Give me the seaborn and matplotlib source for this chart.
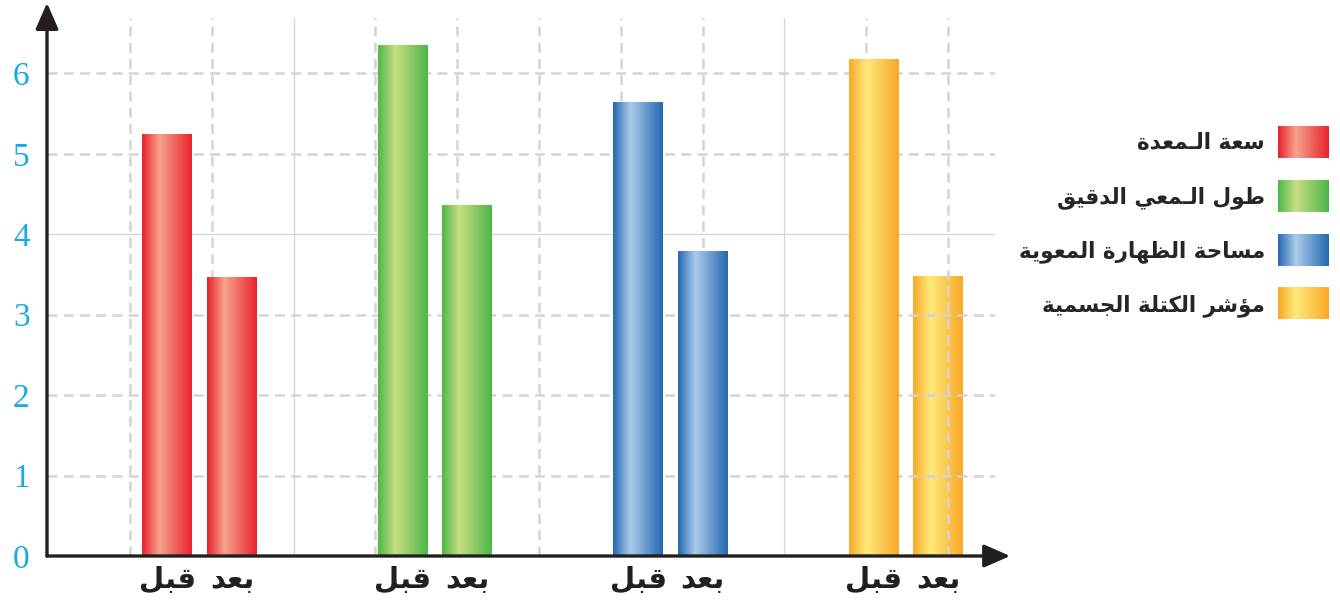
import numpy as np
import pandas as pd
import seaborn as sns
import matplotlib
matplotlib.use('Agg')
import matplotlib.pyplot as plt
from matplotlib.colors import LinearSegmentedColormap
from matplotlib.patches import Patch
from matplotlib.legend_handler import HandlerBase
from matplotlib.image import BboxImage
from matplotlib.transforms import Bbox, TransformedBbox

# البيانات
groups = ['سعة الـمعدة', 'طول الـمعي الدقيق', 'مساحة الظهارة المعوية', 'مؤشر الكتلة الجسمية']
periods = ['قبل', 'بعد']
before = [5.24, 6.35, 5.64, 6.17]
after = [3.46, 4.36, 3.79, 3.47]

edge_colors = ['#E8222C', '#4DB748', '#2468B1', '#F8A826']
light_colors = ['#F6A38B', '#C9DE83', '#ABCCEA', '#FFE97B']

# matplotlib does not shape Arabic: map letters to presentation forms, then reverse
FORMS = {
    '\u0621': (0xFE80, 1), '\u0622': (0xFE81, 2), '\u0623': (0xFE83, 2), '\u0624': (0xFE85, 2),
    '\u0625': (0xFE87, 2), '\u0626': (0xFE89, 4), '\u0627': (0xFE8D, 2), '\u0628': (0xFE8F, 4),
    '\u0629': (0xFE93, 2), '\u062A': (0xFE95, 4), '\u062B': (0xFE99, 4), '\u062C': (0xFE9D, 4),
    '\u062D': (0xFEA1, 4), '\u062E': (0xFEA5, 4), '\u062F': (0xFEA9, 2), '\u0630': (0xFEAB, 2),
    '\u0631': (0xFEAD, 2), '\u0632': (0xFEAF, 2), '\u0633': (0xFEB1, 4), '\u0634': (0xFEB5, 4),
    '\u0635': (0xFEB9, 4), '\u0636': (0xFEBD, 4), '\u0637': (0xFEC1, 4), '\u0638': (0xFEC5, 4),
    '\u0639': (0xFEC9, 4), '\u063A': (0xFECD, 4), '\u0641': (0xFED1, 4), '\u0642': (0xFED5, 4),
    '\u0643': (0xFED9, 4), '\u0644': (0xFEDD, 4), '\u0645': (0xFEE1, 4), '\u0646': (0xFEE5, 4),
    '\u0647': (0xFEE9, 4), '\u0648': (0xFEED, 2), '\u0649': (0xFEEF, 2), '\u064A': (0xFEF1, 4),
}
LAM_ALEF = {'\u0622': 0xFEF5, '\u0623': 0xFEF7, '\u0625': 0xFEF9, '\u0627': 0xFEFB}
TATWEEL = '\u0640'


def joins_next(c):
    return c == TATWEEL or (c in FORMS and FORMS[c][1] == 4)


def joins_prev(c):
    return len(c) == 2 or c == TATWEEL or (c in FORMS and FORMS[c][1] > 1)


def shape(text):
    units = []
    i = 0
    while i < len(text):
        if text[i] == '\u0644' and i + 1 < len(text) and text[i + 1] in LAM_ALEF:
            units.append(text[i:i + 2])
            i += 2
        else:
            units.append(text[i])
            i += 1
    out = []
    for k, u in enumerate(units):
        prev = units[k - 1] if k > 0 else ''
        nxt = units[k + 1] if k + 1 < len(units) else ''
        jp = len(prev) == 1 and joins_next(prev) and joins_prev(u)
        if len(u) == 2:
            out.append(chr(LAM_ALEF[u[1]] + (1 if jp else 0)))
            continue
        if u not in FORMS:
            out.append(u)
            continue
        base, n = FORMS[u]
        jn = n == 4 and nxt != '' and joins_prev(nxt)
        if jp and jn:
            off = 3
        elif jp:
            off = 1
        elif jn:
            off = 2
        else:
            off = 0
        out.append(chr(base + min(off, n - 1)))
    return ''.join(reversed(out))


df = pd.DataFrame({
    'group': groups * 2,
    'period': [periods[0]] * len(groups) + [periods[1]] * len(groups),
    'value': before + after,
})

cmaps = [LinearSegmentedColormap.from_list('g%d' % i, [(0, e), (0.35, l), (1, e)])
         for i, (e, l) in enumerate(zip(edge_colors, light_colors))]
grad = np.linspace(0, 1, 256).reshape(1, -1)

sns.set_style('white')
plt.rcParams['font.family'] = ['DejaVu Sans']

fig = plt.figure(figsize=(13.4, 6.08), dpi=100)
ax = fig.add_axes([47 / 1340, 52 / 608, 948 / 1340, 538 / 608])

sns.barplot(data=df, x='group', y='value', hue='period', order=groups, hue_order=periods,
            width=0.55, gap=0.23, legend=False, ax=ax, zorder=2)

# تدرج لوني على الأعمدة
ticks, labels = [], []
for j, bars in enumerate(ax.containers):
    for g, bar in enumerate(bars):
        x0, w, h = bar.get_x(), bar.get_width(), bar.get_height()
        # in the original the grid shows through the last bar
        z = 0.4 if (j == 1 and g == len(groups) - 1) else 2
        ax.imshow(grad, extent=[x0, x0 + w, 0, h], aspect='auto', cmap=cmaps[g],
                  interpolation='bicubic', zorder=z)
        bar.set_facecolor('none')
        bar.set_edgecolor('none')
        ticks.append(x0 + w / 2)
        labels.append(shape(periods[j]))

ax.set_xlim(-0.6476, 3.378)
ax.set_ylim(0, 6.69)

order = np.argsort(ticks)
ax.set_xticks([ticks[i] for i in order], labels=[labels[i] for i in order],
              fontweight='bold', fontsize=21)
ax.set_xticks(-0.295 + 0.3473 * np.arange(11), minor=True)
ax.set_yticks(range(7))
ax.set_xlabel('')
ax.set_ylabel('')

ax.tick_params(axis='x', which='both', length=0, pad=7, labelcolor='#231F20')
ax.tick_params(axis='y', length=15, width=2.2, direction='inout', color='#19A9E3',
               labelcolor='#19A9E3', labelsize=24, pad=5)
for lbl in ax.get_yticklabels():
    lbl.set_fontfamily('Liberation Serif')

for s in ax.spines.values():
    s.set_visible(False)

# شبكة
ax.set_axisbelow(True)
dash = dict(color='#D4D4D4', linewidth=1.8, linestyle=(0, (4, 2.5)))
ax.grid(which='minor', axis='x', **dash)
ax.grid(which='major', axis='y', **dash)
ax.grid(which='major', axis='x', visible=False)
for k, t in enumerate(ax.xaxis.get_minor_ticks()):
    if k in (2, 8):
        t.gridline.set_linestyle('-')
        t.gridline.set_linewidth(0.9)
ax.yaxis.get_major_ticks()[4].gridline.set_linestyle('-')
ax.yaxis.get_major_ticks()[4].gridline.set_linewidth(0.9)

# محاور بأسهم
arrow = dict(arrowstyle='-|>,head_length=0.8,head_width=0.35', lw=2.4, color='#231F20',
             shrinkA=0, shrinkB=0, mutation_scale=20)
ax.annotate('', xy=(0, 1.028), xytext=(0, 0), xycoords='axes fraction',
            arrowprops=arrow, annotation_clip=False)
ax.annotate('', xy=(1.016, 0), xytext=(0, 0), xycoords='axes fraction',
            arrowprops=arrow, annotation_clip=False)


class GradientHandler(HandlerBase):
    def __init__(self, cmap):
        super().__init__()
        self.cmap = cmap

    def create_artists(self, legend, orig_handle, xdescent, ydescent, width, height, fontsize, trans):
        bb = TransformedBbox(Bbox.from_bounds(-xdescent, -ydescent, width, height), trans)
        img = BboxImage(bb, cmap=self.cmap, interpolation='bicubic')
        img.set_data(grad)
        return [img]


handles = [Patch(facecolor=c) for c in edge_colors]
fig.legend(handles, [shape(g) for g in groups],
           handler_map={h: GradientHandler(cm) for h, cm in zip(handles, cmaps)},
           loc='upper right', bbox_to_anchor=(1328 / 1340, 1 - 127 / 608),
           frameon=False, markerfirst=False, borderpad=0, borderaxespad=0,
           handlelength=2.33, handleheight=1.85, handletextpad=0.6, labelspacing=1.05,
           prop=dict(weight='bold', size=15.5))

fig.savefig('out.png', dpi=100)
